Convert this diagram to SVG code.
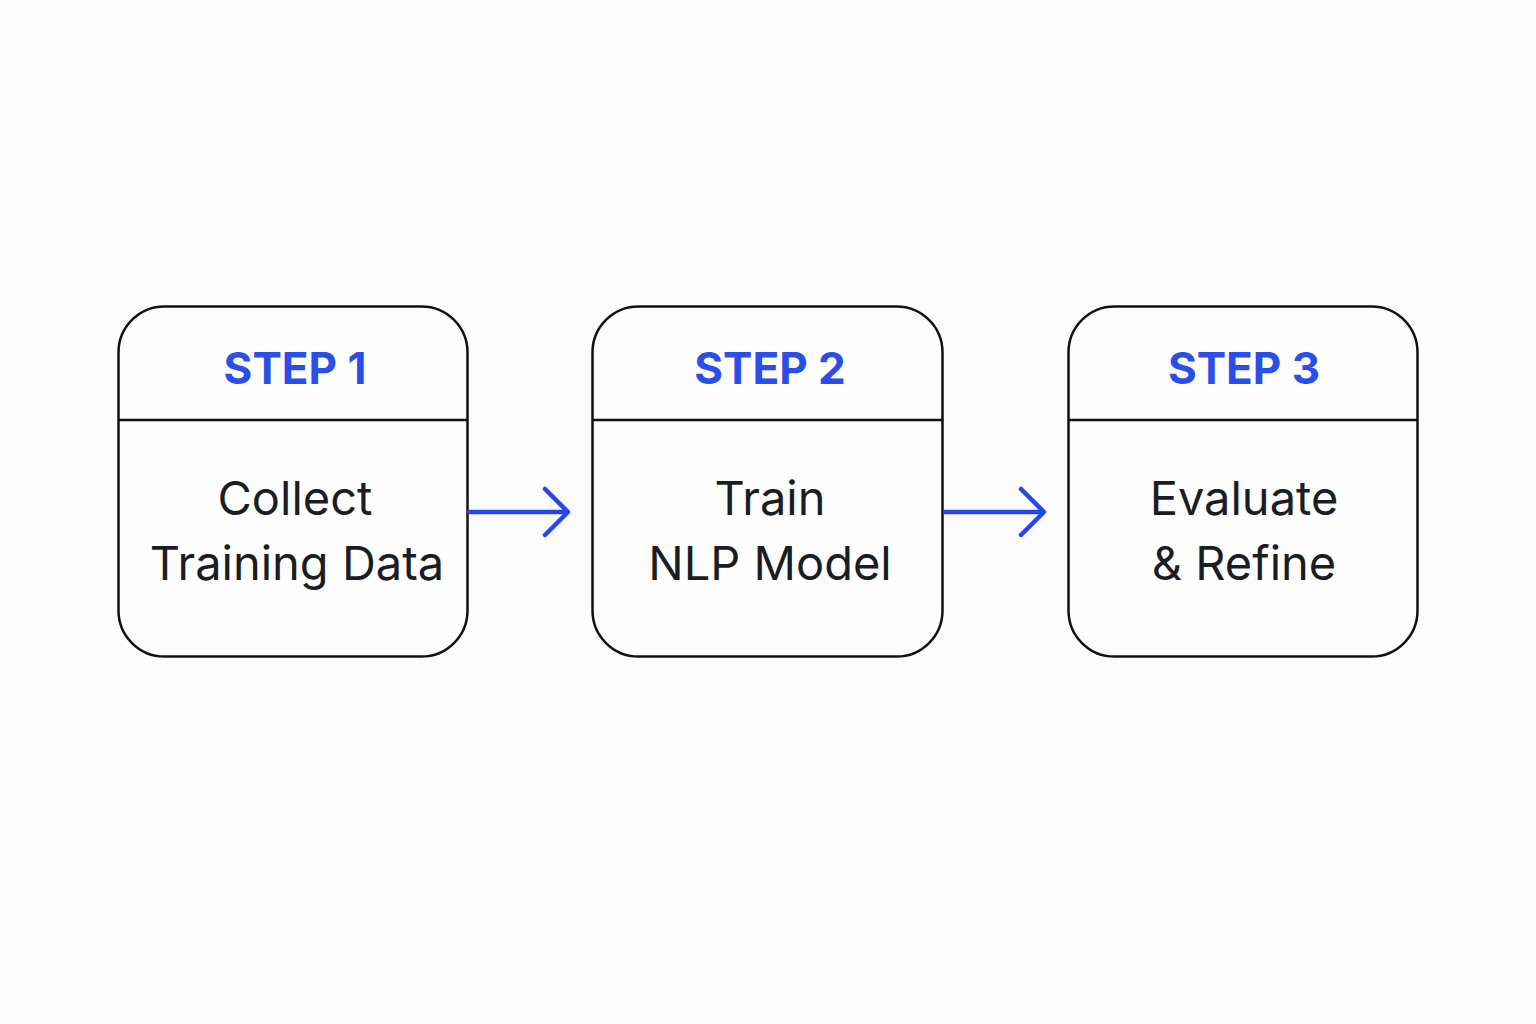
<svg xmlns="http://www.w3.org/2000/svg" width="1536" height="1024" viewBox="0 0 1536 1024">
<style>
.box{fill:#fdfdfd;stroke:#111;stroke-width:2.5}
.div{stroke:#111;stroke-width:2.5}
.step{font-family:Inter,"Noto Sans",sans-serif;font-weight:700;font-size:44px;fill:#2b4de8;text-anchor:middle}
.body{font-family:Inter,"Noto Sans",sans-serif;font-weight:400;font-size:47px;fill:#1a1d24;text-anchor:middle}
.conn{stroke:#2546ee;stroke-width:4.5;fill:none;stroke-linecap:round;stroke-linejoin:round}
</style>
<rect width="1536" height="1024" fill="#fcfcfc"/>
<g id="step1">
<rect class="box" x="118.5" y="306.5" width="349" height="350" rx="46"/>
<line class="div" x1="118.5" y1="420" x2="467.5" y2="420"/>
<text class="step" x="295" y="384">STEP 1</text>
<text class="body" x="295" y="515">Collect</text>
<text class="body" x="297" y="580">Training Data</text>
</g>
<g id="step2">
<rect class="box" x="592.5" y="306.5" width="350" height="350" rx="46"/>
<line class="div" x1="592.5" y1="420" x2="942.5" y2="420"/>
<text class="step" x="770" y="384">STEP 2</text>
<text class="body" x="770" y="515">Train</text>
<text class="body" x="770" y="580">NLP Model</text>
</g>
<g id="step3">
<rect class="box" x="1068.5" y="306.5" width="349" height="350" rx="46"/>
<line class="div" x1="1068.5" y1="420" x2="1417.5" y2="420"/>
<text class="step" x="1244" y="384">STEP 3</text>
<text class="body" x="1244" y="515">Evaluate</text>
<text class="body" x="1244" y="580">&amp; Refine</text>
</g>
<g id="connectors">
<path class="conn" d="M469 512 H567 M545 489 L568 512 L545 535"/>
<path class="conn" d="M945 512 H1043 M1021 489 L1044 512 L1021 535"/>
</g>
</svg>
